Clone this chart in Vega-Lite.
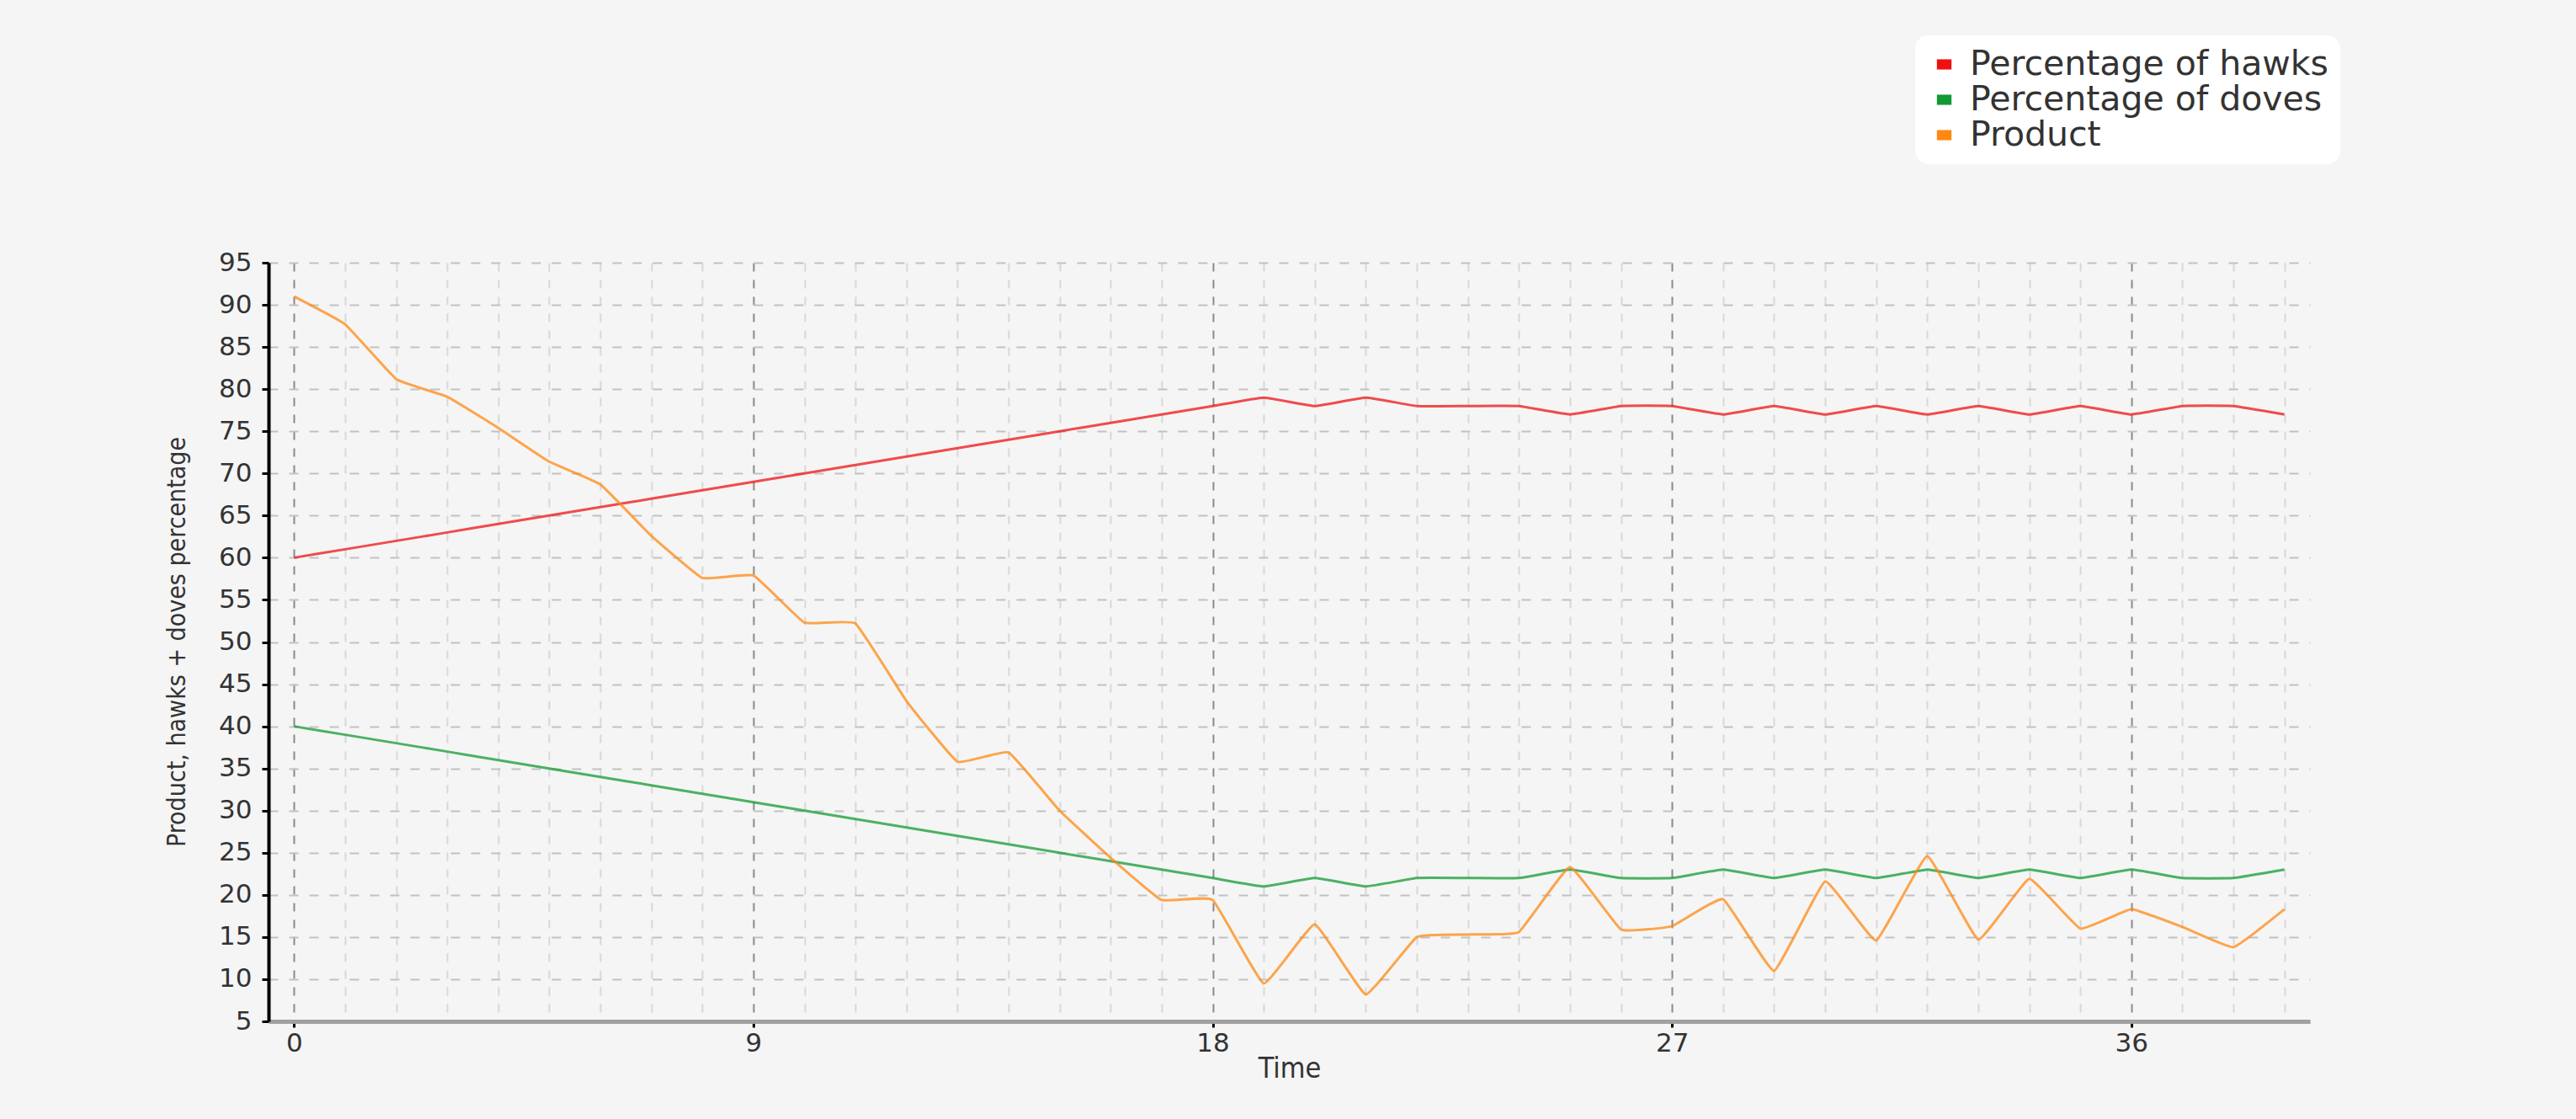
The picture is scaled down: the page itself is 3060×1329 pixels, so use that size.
{
  "$schema": "https://vega.github.io/schema/vega-lite/v6.json",
  "width": 2425,
  "height": 901,
  "autosize": {"type": "none"},
  "padding": {"left": 319, "top": 312, "right": 316, "bottom": 116},
  "background": "#f5f5f5",
  "config": {"view": {"stroke": null}},
  "data": {
    "values": [
      {"t": 0, "hawks": 60, "doves": 40, "product": 91.0},
      {"t": 1, "hawks": 61, "doves": 39, "product": 87.7},
      {"t": 2, "hawks": 62, "doves": 38, "product": 81.2},
      {"t": 3, "hawks": 63, "doves": 37, "product": 79.1},
      {"t": 4, "hawks": 64, "doves": 36, "product": 75.4},
      {"t": 5, "hawks": 65, "doves": 35, "product": 71.4},
      {"t": 6, "hawks": 66, "doves": 34, "product": 68.7},
      {"t": 7, "hawks": 67, "doves": 33, "product": 62.6},
      {"t": 8, "hawks": 68, "doves": 32, "product": 57.6},
      {"t": 9, "hawks": 69, "doves": 31, "product": 57.9},
      {"t": 10, "hawks": 70, "doves": 30, "product": 52.3},
      {"t": 11, "hawks": 71, "doves": 29, "product": 52.2},
      {"t": 12, "hawks": 72, "doves": 28, "product": 43.0},
      {"t": 13, "hawks": 73, "doves": 27, "product": 35.8},
      {"t": 14, "hawks": 74, "doves": 26, "product": 36.9},
      {"t": 15, "hawks": 75, "doves": 25, "product": 30.0},
      {"t": 16, "hawks": 76, "doves": 24, "product": 24.4},
      {"t": 17, "hawks": 77, "doves": 23, "product": 19.4},
      {"t": 18, "hawks": 78, "doves": 22, "product": 19.4},
      {"t": 19, "hawks": 79, "doves": 21, "product": 9.5},
      {"t": 20, "hawks": 78, "doves": 22, "product": 16.5},
      {"t": 21, "hawks": 79, "doves": 21, "product": 8.2},
      {"t": 22, "hawks": 78, "doves": 22, "product": 15.0},
      {"t": 23, "hawks": 78, "doves": 22, "product": 15.3},
      {"t": 24, "hawks": 78, "doves": 22, "product": 15.6},
      {"t": 25, "hawks": 77, "doves": 23, "product": 23.3},
      {"t": 26, "hawks": 78, "doves": 22, "product": 15.9},
      {"t": 27, "hawks": 78, "doves": 22, "product": 16.3},
      {"t": 28, "hawks": 77, "doves": 23, "product": 19.5},
      {"t": 29, "hawks": 78, "doves": 22, "product": 11.0},
      {"t": 30, "hawks": 77, "doves": 23, "product": 21.6},
      {"t": 31, "hawks": 78, "doves": 22, "product": 14.6},
      {"t": 32, "hawks": 77, "doves": 23, "product": 24.6},
      {"t": 33, "hawks": 78, "doves": 22, "product": 14.7},
      {"t": 34, "hawks": 77, "doves": 23, "product": 21.9},
      {"t": 35, "hawks": 78, "doves": 22, "product": 16.0},
      {"t": 36, "hawks": 77, "doves": 23, "product": 18.3},
      {"t": 37, "hawks": 78, "doves": 22, "product": 16.2},
      {"t": 38, "hawks": 78, "doves": 22, "product": 13.8},
      {"t": 39, "hawks": 77, "doves": 23, "product": 18.3}
    ]
  },
  "transform": [{"fold": ["hawks", "doves", "product"], "as": ["series", "value"]}],
  "mark": {"type": "line", "interpolate": "cardinal", "tension": 0.7, "strokeWidth": 3, "opacity": 0.75},
  "encoding": {
    "x": {
      "field": "t",
      "type": "quantitative",
      "scale": {"domain": [-0.5, 39.5], "nice": false, "zero": false},
      "axis": {
        "values": [0,1,2,3,4,5,6,7,8,9,10,11,12,13,14,15,16,17,18,19,20,21,22,23,24,25,26,27,28,29,30,31,32,33,34,35,36,37,38,39],
        "labelExpr": "datum.value % 9 === 0 ? datum.label : ''",
        "labelOverlap": false,
        "labelFont": "DejaVu Sans",
        "labelFontSize": 31,
        "labelColor": "#333333",
        "labelPadding": 4,
        "grid": true,
        "gridColor": {"condition": {"test": "datum.value % 9 === 0", "value": "#8a8a8a"}, "value": "#d8d8d8"},
        "gridDash": [10, 10],
        "gridWidth": 2,
        "tickColor": {"condition": {"test": "datum.value % 9 === 0", "value": "#000000"}, "value": "transparent"},
        "tickWidth": 3,
        "tickSize": 7,
        "domainColor": "#a0a0a0",
        "domainWidth": 5,
        "title": "Time",
        "titleFont": "Liberation Sans Narrow, DejaVu Sans Condensed, sans-serif",
        "titleFontSize": 34,
        "titleFontWeight": "normal",
        "titleColor": "#333333",
        "titleY": 56,
        "titleBaseline": "middle"
      }
    },
    "y": {
      "field": "value",
      "type": "quantitative",
      "scale": {"domain": [5, 95], "nice": false, "zero": false},
      "axis": {
        "values": [5,10,15,20,25,30,35,40,45,50,55,60,65,70,75,80,85,90,95],
        "labelFont": "DejaVu Sans",
        "labelFontSize": 31,
        "labelColor": "#333333",
        "labelPadding": 12,
        "grid": true,
        "gridColor": "#c2c2c2",
        "gridDash": [11, 13],
        "gridWidth": 2,
        "tickColor": "#000000",
        "tickWidth": 3,
        "tickSize": 8,
        "domainColor": "#000000",
        "domainWidth": 4,
        "title": "Product, hawks + doves percentage",
        "titleFont": "Liberation Sans Narrow, DejaVu Sans Condensed, sans-serif",
        "titleFontSize": 30,
        "titleFontWeight": "normal",
        "titleColor": "#333333",
        "titleAngle": -90,
        "titleX": -109,
        "titleY": 450,
        "titleAlign": "center",
        "titleBaseline": "middle"
      }
    },
    "color": {
      "field": "series",
      "type": "nominal",
      "scale": {"domain": ["hawks", "doves", "product"], "range": ["#ee1111", "#119933", "#ff8811"]},
      "legend": {
        "orient": "none",
        "legendX": 1956,
        "legendY": -270,
        "title": null,
        "fillColor": "#ffffff",
        "cornerRadius": 16,
        "padding": 14,
        "labelExpr": "datum.value === 'hawks' ? 'Percentage of hawks' : datum.value === 'doves' ? 'Percentage of doves' : 'Product'",
        "labelFont": "DejaVu Sans",
        "labelFontSize": 41,
        "labelColor": "#333333",
        "labelOffset": 10,
        "labelLimit": 700,
        "rowPadding": 0,
        "symbolType": "M-1,-0.7L1,-0.7L1,0.7L-1,0.7Z",
        "symbolSize": 300,
        "symbolOpacity": 1,
        "symbolStrokeWidth": 0,
        "encode": {
          "symbols": {
            "update": {
              "fill": {"scale": "color", "field": "value"},
              "stroke": {"value": "transparent"},
              "opacity": {"value": 1}
            }
          }
        }
      }
    }
  }
}
